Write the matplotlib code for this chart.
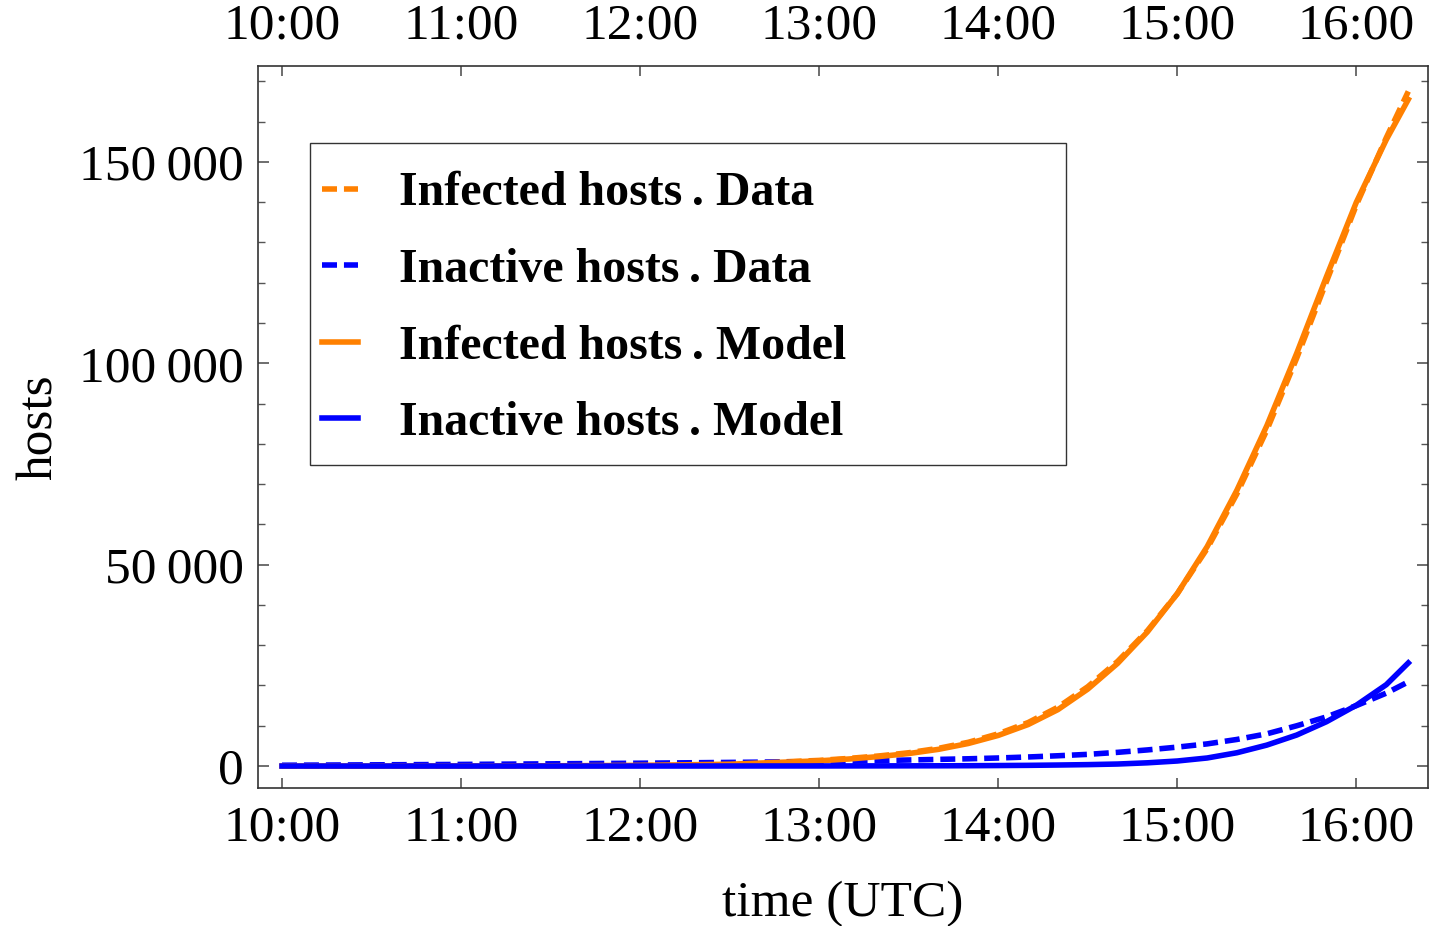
import numpy as np
import matplotlib
matplotlib.use('Agg')
import matplotlib.pyplot as plt
from matplotlib.ticker import MultipleLocator, FuncFormatter
from matplotlib.patches import Rectangle

plt.rcParams['font.family'] = ['Liberation Serif', 'DejaVu Serif']

# hours after 10:00 UTC
t = [0, 0.5, 1.0, 1.5, 2.0, 2.5, 3.0, 3.167, 3.333, 3.5, 3.667, 3.833, 4.0, 4.167,
     4.333, 4.5, 4.667, 4.833, 5.0, 5.167, 5.333, 5.5, 5.667, 5.833, 6.0, 6.167, 6.29]

# hosts, thousands
infected_data = [0.0, 0.0, 0.03, 0.08, 0.2, 0.5, 1.4, 1.9, 2.5, 3.3, 4.4, 5.9, 8.0, 10.8,
                 14.6, 19.7, 26.0, 33.6, 42.8, 54.0, 67.6, 83.4, 101.3, 120.3, 139.3, 156.0, 167.5]
inactive_data = [0.2, 0.3, 0.4, 0.55, 0.7, 0.9, 1.1, 1.2, 1.35, 1.5, 1.65, 1.8, 2.0, 2.25,
                 2.55, 2.9, 3.4, 4.0, 4.7, 5.5, 6.6, 8.0, 10.0, 12.2, 15.0, 18.1, 20.9]
infected_model = [0.0, 0.0, 0.02, 0.06, 0.17, 0.45, 1.3, 1.75, 2.35, 3.1, 4.15, 5.6, 7.6, 10.3,
                  14.0, 19.1, 25.5, 33.3, 42.8, 54.5, 68.5, 84.5, 102.5, 121.5, 140.0, 155.5, 165.5]
inactive_model = [0.0, 0.0, 0.0, 0.0, 0.0, 0.01, 0.02, 0.03, 0.04, 0.05, 0.06, 0.08, 0.12, 0.17,
                  0.25, 0.35, 0.5, 0.8, 1.25, 2.0, 3.3, 5.2, 7.7, 11.0, 15.1, 20.2, 25.6]

hour_ticks = [0, 1, 2, 3, 4, 5, 6]
hour_labels = ['10:00', '11:00', '12:00', '13:00', '14:00', '15:00', '16:00']

orange = '#FF8000'
blue = '#0000FF'
dash = (0, (2.7, 1.25))

fig = plt.figure(figsize=(14.31, 9.26), dpi=100)
ax = fig.add_axes([0.1803, 0.149, 0.8176, 0.7797])

td = np.array(t)
ax.plot(td, np.array(infected_data) * 1000, color=orange, lw=4, ls=dash, label='Infected hosts\u2009. Data')
ax.plot(td, np.array(inactive_data) * 1000, color=blue, lw=4, ls=dash, label='Inactive hosts\u2009. Data')
ax.plot(td, np.array(infected_model) * 1000, color=orange, lw=4, label='Infected hosts\u2009. Model')
ax.plot(td, np.array(inactive_model) * 1000, color=blue, lw=4, label='Inactive hosts\u2009. Model')

ax.set_xlim(-0.134, 6.40)
ax.set_ylim(-5460, 173800)

ax.set_xticks(hour_ticks)
ax.set_xticklabels(hour_labels)
ax.yaxis.set_major_locator(MultipleLocator(50000))
ax.yaxis.set_minor_locator(MultipleLocator(10000))
ax.yaxis.set_major_formatter(FuncFormatter(lambda v, p: f'{int(v):,}'.replace(',', '\u2009')))

ax.tick_params(axis='x', which='major', direction='in', length=7, width=1.2, color='#555555',
               top=True, labeltop=True, labelsize=37, pad=12)
ax.tick_params(axis='y', which='major', direction='in', length=8, width=1.2, color='#555555',
               right=True, labelsize=37, pad=10)
ax.tick_params(axis='y', which='minor', direction='in', length=5, width=1.0, color='#555555',
               right=True)

for s in ax.spines.values():
    s.set_color('#333333')
    s.set_linewidth(1.2)

ax.set_xlabel('time (UTC)', fontsize=37, labelpad=21)
ax.set_ylabel('hosts', fontsize=37, labelpad=12)

# legend frame drawn separately (it is much wider than the text)
ax.add_patch(Rectangle((0.0444, 0.4474), 0.6462, 0.446, transform=ax.transAxes,
                       facecolor='white', edgecolor='#333333', lw=1.0, zorder=4))
leg = ax.legend(loc='upper left', bbox_to_anchor=(0.0547, 0.854), prop={'weight': 'bold', 'size': 34.5},
                handlelength=0.75, handletextpad=0.85, borderpad=0, labelspacing=0.68,
                frameon=False, borderaxespad=0)
leg.set_zorder(5)

plt.savefig('out.png', dpi=100)
